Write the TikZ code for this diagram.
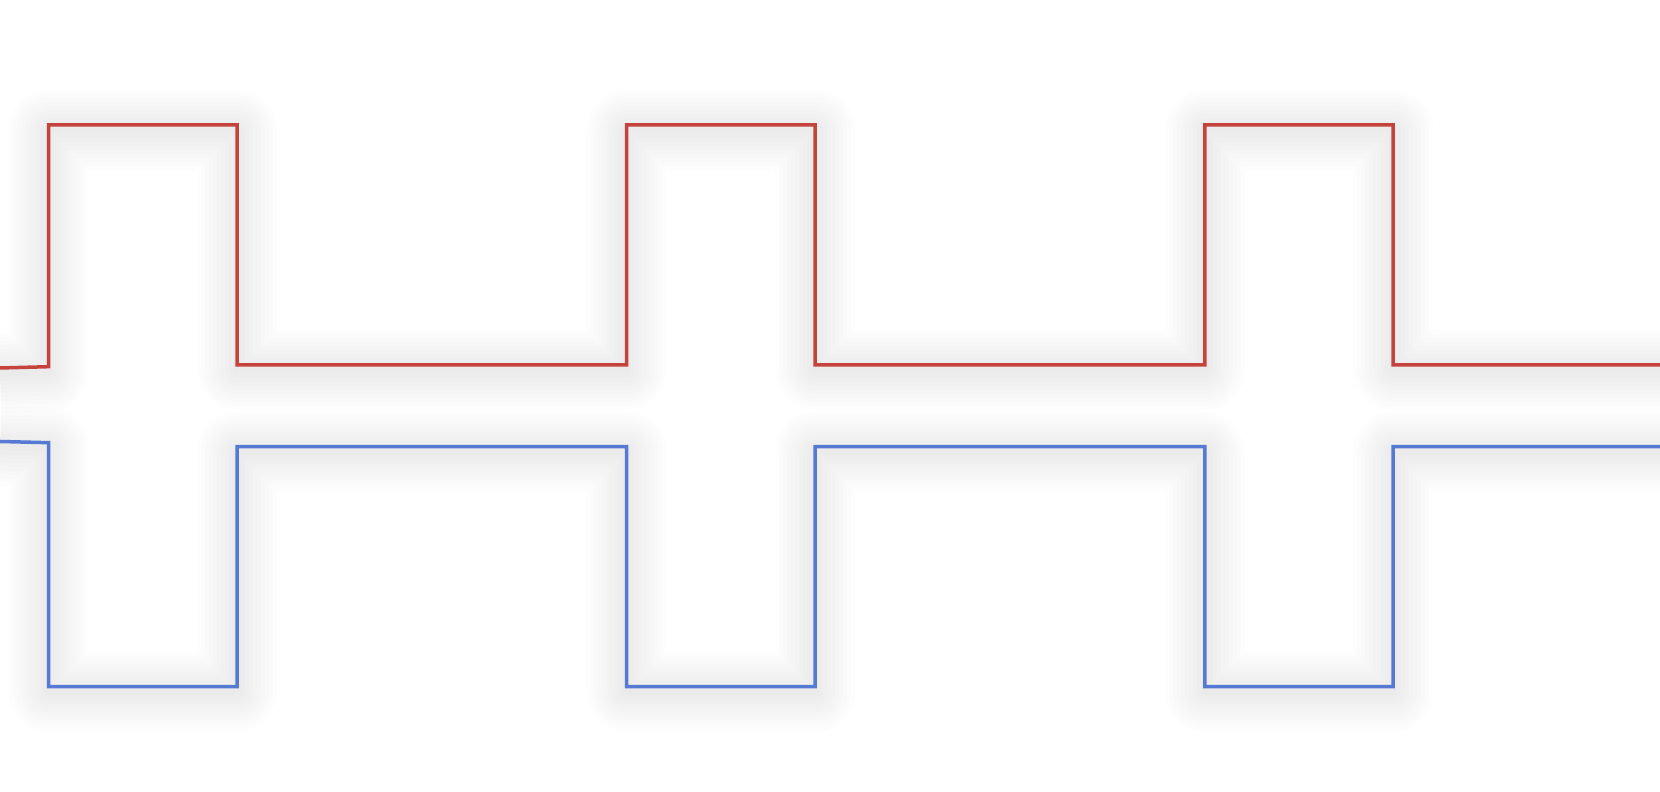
\documentclass[tikz,border=0pt]{standalone}
\usepackage{tikz}
\definecolor{sigred}{RGB}{196,68,61}
\definecolor{sigblue}{RGB}{86,122,212}

% the two traces, in pixel units
\newcommand{\redtrace}{(0,368) -- (48.7,366.7) -- (48.7,125) -- (237,125) -- (237,365) -- (626.7,365) -- (626.7,125) -- (815.2,125) -- (815.2,365) -- (1204.8,365) -- (1204.8,125) -- (1393.2,125) -- (1393.2,365) -- (1660,365)}
\newcommand{\bluetrace}{(0,441.5) -- (48.7,442.7) -- (48.7,686.7) -- (237,686.7) -- (237,446.7) -- (626.7,446.7) -- (626.7,686.7) -- (815.2,686.7) -- (815.2,446.7) -- (1204.8,446.7) -- (1204.8,686.7) -- (1393.2,686.7) -- (1393.2,446.7) -- (1660,446.7)}

\begin{document}
\begin{tikzpicture}[x=0.01cm,y=-0.01cm,
    trace/.style={line width=3.5*0.01cm,line join=miter},
    glow/.style={line width=#1*0.01cm,black,opacity=0.007,line join=round}]
  \useasboundingbox[fill=white] (0,0) rectangle (1660,792);
  % soft shadows
  \begin{scope}[yshift=-0.05cm]
    \foreach \w in {8,16,...,80} {
      \draw[glow=\w] \redtrace;
      \draw[glow=\w] \bluetrace;
    }
  \end{scope}
  \draw[trace,sigred] \redtrace;
  \draw[trace,sigblue] \bluetrace;
\end{tikzpicture}
\end{document}
